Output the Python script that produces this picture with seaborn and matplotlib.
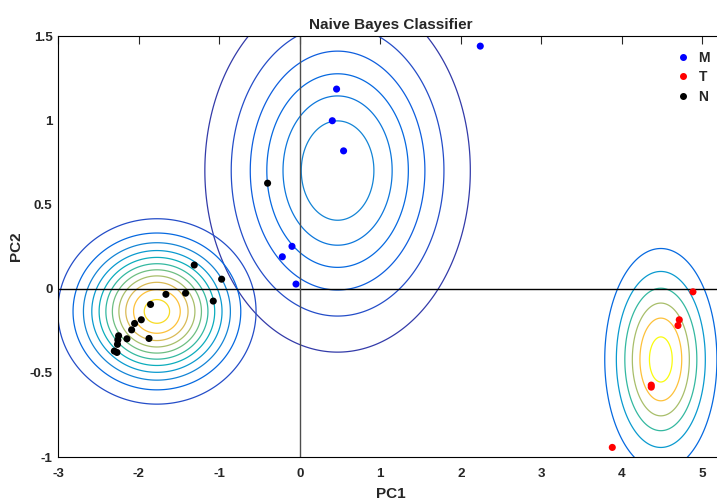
import numpy as np
import pandas as pd
import matplotlib
matplotlib.use("Agg")
import matplotlib.pyplot as plt
from matplotlib.colors import LinearSegmentedColormap, Normalize
from matplotlib.lines import Line2D
import seaborn as sns

# PCA scores of each class
m_pc1 = [2.242, 0.457, 0.404, 0.544, -0.097, -0.217, -0.047]
m_pc2 = [1.440, 1.185, 0.997, 0.818, 0.251, 0.189, 0.027]
t_pc1 = [4.884, 4.714, 4.698, 4.366, 4.366, 3.882]
t_pc2 = [-0.019, -0.185, -0.219, -0.573, -0.585, -0.943]
n_pc1 = [-0.400, -1.311, -0.971, -1.075, -1.419, -1.663, -1.854, -1.969, -2.052,
         -2.089, -1.873, -2.147, -2.251, -2.260, -2.265, -2.304, -2.271]
n_pc2 = [0.626, 0.140, 0.056, -0.074, -0.027, -0.034, -0.094, -0.185, -0.207,
         -0.245, -0.296, -0.298, -0.280, -0.305, -0.331, -0.371, -0.379]

classes = ["M", "T", "N"]
class_colors = {"M": "blue", "T": "red", "N": "black"}
# contour spacing for each class density
contour_steps = {"M": 0.05, "T": 0.2, "N": 0.1}

x_ticks = [-3, -2, -1, 0, 1, 2, 3, 4, 5]
y_ticks = [-1, -0.5, 0, 0.5, 1, 1.5]
y_tick_labels = ["-1", "-0.5", "0", "0.5", "1", "1.5"]

df = pd.DataFrame({
    "PC1": m_pc1 + t_pc1 + n_pc1,
    "PC2": m_pc2 + t_pc2 + n_pc2,
    "Class": ["M"] * len(m_pc1) + ["T"] * len(t_pc1) + ["N"] * len(n_pc1),
})

# parula colormap (sampled)
parula = LinearSegmentedColormap.from_list("parula", [
    (0.2081, 0.1663, 0.5292), (0.1959, 0.2645, 0.7279), (0.0591, 0.3598, 0.8683),
    (0.0165, 0.4266, 0.8786), (0.0779, 0.5040, 0.8384), (0.0641, 0.5570, 0.8240),
    (0.0239, 0.6287, 0.8038), (0.0384, 0.6743, 0.7436), (0.1453, 0.7098, 0.6646),
    (0.2586, 0.7317, 0.5954), (0.4420, 0.7481, 0.5033), (0.6099, 0.7473, 0.4337),
    (0.7525, 0.7384, 0.3768), (0.8824, 0.7274, 0.3217), (0.9938, 0.7455, 0.2403),
    (0.9880, 0.8066, 0.1794), (0.9589, 0.8949, 0.1132), (0.9763, 0.9831, 0.0538)])

sns.set_style("white")
plt.rcParams["font.family"] = ["Liberation Sans", "DejaVu Sans"]
plt.rcParams["axes.unicode_minus"] = False

fig = plt.figure(figsize=(7.17, 5.01), dpi=100)
ax = fig.add_axes([0.0813, 0.0878, 0.9285, 0.8403])

# naive Bayes gaussian fit per class (independent features)
gx, gy = np.meshgrid(np.linspace(-3.5, 5.8, 600), np.linspace(-1.5, 2.0, 600))
densities = {}
for c in classes:
    sub = df[df["Class"] == c]
    mx, my = sub["PC1"].mean(), sub["PC2"].mean()
    sx, sy = sub["PC1"].std(), sub["PC2"].std()
    densities[c] = (np.exp(-0.5 * ((gx - mx) / sx) ** 2 - 0.5 * ((gy - my) / sy) ** 2)
                    / (2 * np.pi * sx * sy))

all_levels = {c: np.arange(contour_steps[c], densities[c].max(), contour_steps[c]) for c in classes}
norm = Normalize(0, max(lv.max() for lv in all_levels.values()))
for c in classes:
    ax.contour(gx, gy, densities[c], levels=all_levels[c], cmap=parula, norm=norm,
               linewidths=0.9, zorder=1)

ax.axhline(0, color="black", lw=1.0, zorder=2)
ax.axvline(0, color="0.3", lw=1.0, zorder=2)

sns.scatterplot(data=df, x="PC1", y="PC2", hue="Class", hue_order=classes,
                palette=class_colors, s=26, edgecolor="none", legend=False, ax=ax, zorder=3)

ax.set_xlim(-3, 5.27)
ax.set_ylim(-1, 1.5)
ax.set_xticks(x_ticks)
ax.set_xticklabels([str(v) for v in x_ticks])
ax.set_yticks(y_ticks)
ax.set_yticklabels(y_tick_labels)
ax.tick_params(direction="in", length=6, width=0.8, top=True, right=False, labelsize=9.7)
ax.tick_params(axis="x", pad=8)
ax.tick_params(axis="y", pad=4)
for lab in ax.get_xticklabels() + ax.get_yticklabels():
    lab.set_fontweight("bold")
for sp in ax.spines.values():
    sp.set_color("black")
    sp.set_linewidth(0.8)

ax.set_title("Naive Bayes Classifier", fontsize=11, fontweight="bold", pad=5)
ax.set_xlabel("PC1", fontsize=11, fontweight="bold", labelpad=5)
ax.set_ylabel("PC2", fontsize=11, fontweight="bold", labelpad=5)

handles = [Line2D([], [], marker="o", linestyle="none", color=class_colors[c],
                  markersize=4, label=c) for c in classes]
leg = ax.legend(handles=handles, loc="upper right", bbox_to_anchor=(710 / 717, 1 - 51 / 501),
                bbox_transform=fig.transFigure, frameon=False, borderpad=0, borderaxespad=0,
                handletextpad=0.65, handlelength=1.0, labelspacing=0.38,
                prop={"weight": "bold", "size": 10})

fig.savefig("out.png", dpi=100)
